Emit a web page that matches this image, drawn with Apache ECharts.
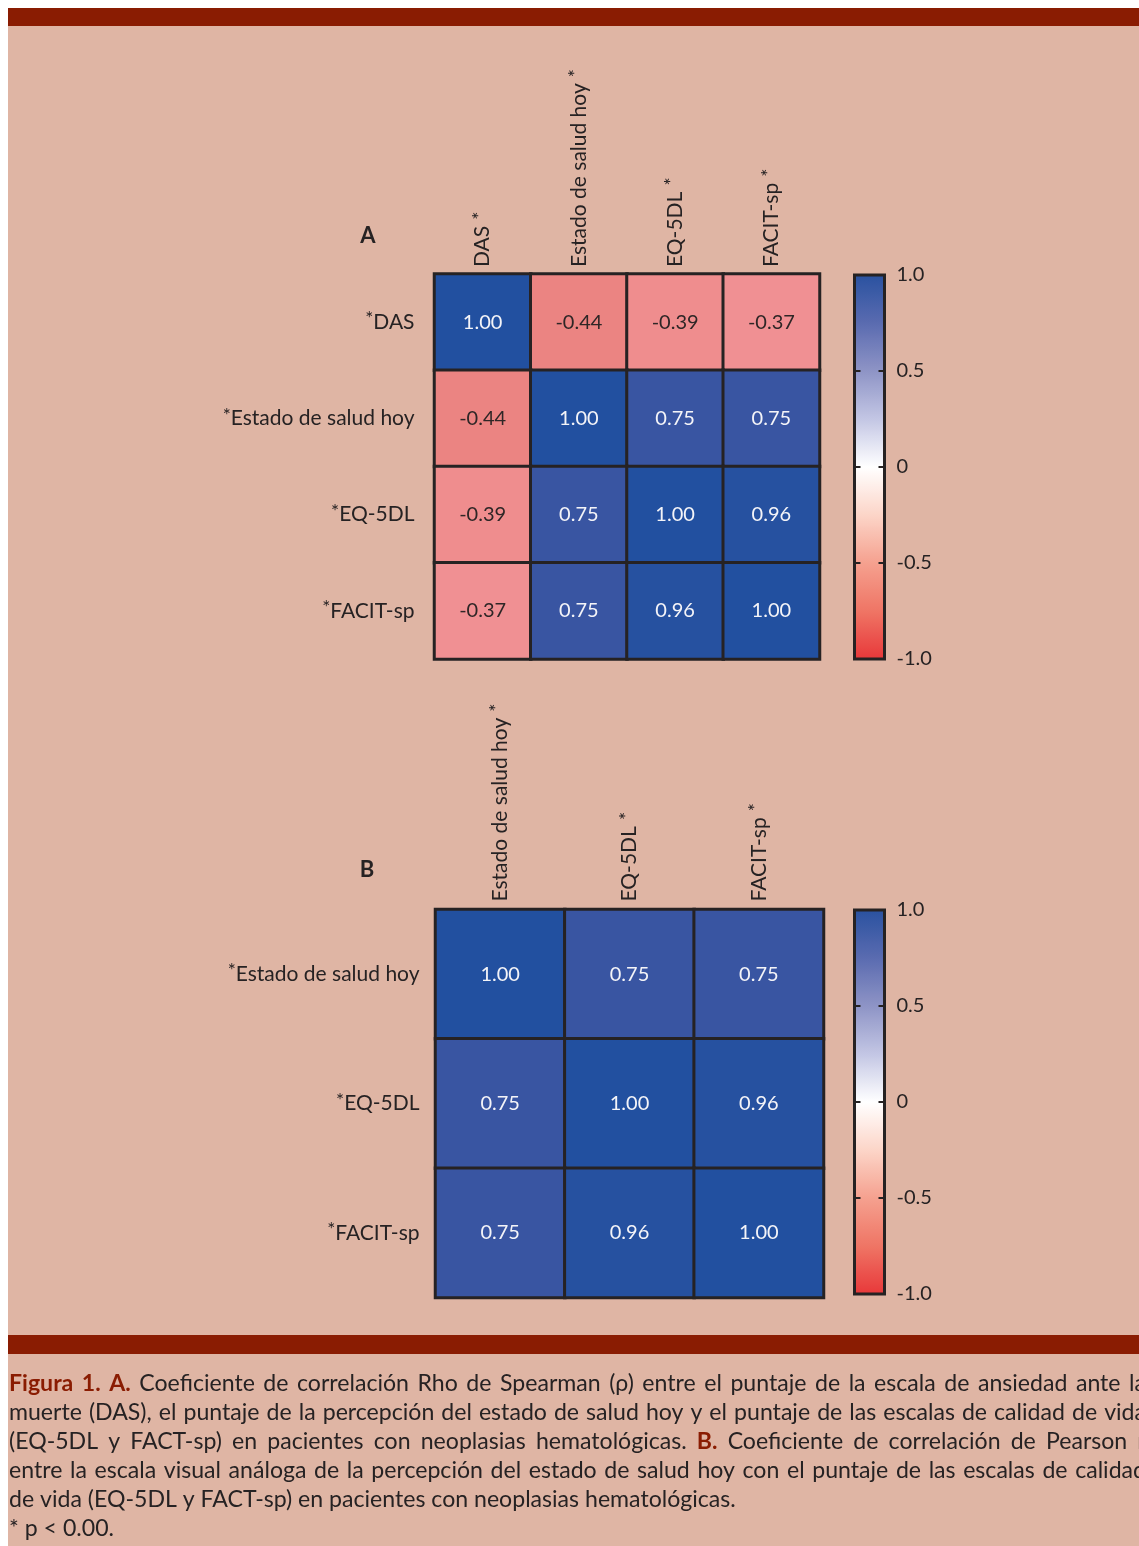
<!DOCTYPE html>
<html>
<head>
<meta charset="utf-8">
<script src="https://cdn.jsdelivr.net/npm/echarts@6/dist/echarts.min.js"></script>
<style>
  html, body { margin: 0; padding: 0; background: #ffffff; }
  #chart { width: 1139px; height: 1546px; }
</style>
</head>
<body>
<div id="chart"></div>
<script>
// Panel A: Spearman rho between DAS, health state today and the quality-of-life scales
const varsA = ['DAS', 'Estado de salud hoy', 'EQ-5DL', 'FACIT-sp'];
const rhoA = [
  [1.00, -0.44, -0.39, -0.37],
  [-0.44, 1.00, 0.75, 0.75],
  [-0.39, 0.75, 1.00, 0.96],
  [-0.37, 0.75, 0.96, 1.00]
];
// Panel B: Pearson r between health state today and the quality-of-life scales
const varsB = ['Estado de salud hoy', 'EQ-5DL', 'FACIT-sp'];
const rB = [
  [1.00, 0.75, 0.75],
  [0.75, 1.00, 0.96],
  [0.75, 0.96, 1.00]
];
// colour scale range and tick step
const scaleMin = -1, scaleMax = 1, scaleStep = 0.5;

// colours used to fill the cells (evenly spaced from -1 to 1)
const cellColors = ['#E8383A', '#EA5A55', '#E77A73', '#F9A5B0', '#FFFFFF', '#C5C8E5', '#8E94C6', '#3955A2', '#2250A0'];
// colours of the legend bars (evenly spaced from -1 to 1)
const barColors = ['#E8383A', '#EF7565', '#F5A18F', '#FCD5C8', '#FFFFFF', '#C3C6E4', '#8E94C6', '#5A6BB0', '#2A52A0'];

const INK = '#262223';
const RED = '#8A1C02';
const BG = '#DFB5A4';
const FONT = 'Lato';

function toCells(m) {
  const out = [];
  m.forEach((row, i) => row.forEach((v, j) => out.push([j, i, v])));
  return out;
}

const richAxis = {
  t: { fontFamily: FONT, fontSize: 21, color: INK, lineHeight: 25 },
  g: { fontFamily: FONT, fontSize: 12, lineHeight: 4 },
  s: { fontFamily: FONT, fontSize: 19, color: INK, lineHeight: 4, verticalAlign: 'top' }
};
const richCell = {
  w: { fontFamily: FONT, fontSize: 20, color: '#F4F4F8' },
  d: { fontFamily: FONT, fontSize: 20, color: '#2E2626' }
};

function heatAxes(gi, names, yMargin, xMargin) {
  return {
    x: {
      gridIndex: gi, type: 'category', data: names, position: 'top',
      axisLine: { show: false }, axisTick: { show: false }, splitLine: { show: false },
      axisLabel: {
        interval: 0, rotate: -90, margin: xMargin,
        formatter: v => '{t|' + v + '}{g|  }{s|*}', rich: richAxis
      }
    },
    y: {
      gridIndex: gi, type: 'category', data: names, inverse: true,
      axisLine: { show: false }, axisTick: { show: false }, splitLine: { show: false },
      axisLabel: {
        interval: 0, margin: yMargin,
        formatter: v => '{s|*}{t|' + v + '}', rich: richAxis
      }
    }
  };
}

function barAxes(gi) {
  const tick = { show: true, inside: true, length: 6, lineStyle: { color: INK, width: 2 } };
  return {
    x: { gridIndex: gi, type: 'value', min: 0, max: 1, show: false },
    yl: {
      gridIndex: gi, type: 'value', min: scaleMin, max: scaleMax, interval: scaleStep,
      position: 'left', z: 10,
      axisLine: { show: false }, axisTick: tick, axisLabel: { show: false }, splitLine: { show: false }
    },
    yr: {
      gridIndex: gi, type: 'value', min: scaleMin, max: scaleMax, interval: scaleStep,
      position: 'right', z: 10,
      axisLine: { show: false }, axisTick: tick, splitLine: { show: false },
      axisLabel: {
        margin: 12, fontFamily: FONT, fontSize: 20, color: INK,
        formatter: v => (v === 0 ? '0' : v.toFixed(1))
      }
    }
  };
}

const hA = heatAxes(0, varsA, 20, 7);
const hB = heatAxes(1, varsB, 16, 8);
const bA = barAxes(2);
const bB = barAxes(3);

// ---- caption below the figure ----
const measureCtx = document.createElement('canvas').getContext('2d');
function fontOf(kind, fs) {
  return (kind === 'n' ? 'normal ' : 'bold ') + fs + 'px ' + FONT;
}
function textWidth(t, font) { measureCtx.font = font; return measureCtx.measureText(t).width; }

const captionLines = [
  { justify: true, segs: [['Figura 1. A.', 'red'], ['Coeficiente de correlación Rho de Spearman (ρ) entre el puntaje de la escala de ansiedad ante la', 'n']] },
  { justify: true, segs: [['muerte (DAS), el puntaje de la percepción del estado de salud hoy y el puntaje de las escalas de calidad de vida', 'n']] },
  { justify: true, segs: [['(EQ-5DL y FACT-sp) en pacientes con neoplasias hematológicas.', 'n'], ['B.', 'red'], ['Coeficiente de correlación de Pearson', 'n'], ['r', 'b']] },
  { justify: true, segs: [['entre la escala visual análoga de la percepción del estado de salud hoy con el puntaje de las escalas de calidad', 'n']] },
  { justify: false, segs: [['de vida (EQ-5DL y FACT-sp) en pacientes con neoplasias hematológicas.', 'n']] },
  { justify: false, segs: [['* p < 0.00.', 'n']] }
];

const capLeft = 9, capRight = 1146, capTop = 1384, capStep = 29;
// size the caption type so the free-running line spans its printed width
let capFs = 21 * 727 / textWidth(captionLines[4].segs[0][0], fontOf('n', 21));
capFs = Math.max(19, Math.min(24, capFs));

const captionEls = [];
captionLines.forEach((line, li) => {
  const words = [];
  line.segs.forEach(([txt, kind]) => txt.split(' ').forEach(w => words.push({ w, kind })));
  const widths = words.map(o => textWidth(o.w, fontOf(o.kind, capFs)));
  const total = widths.reduce((a, b) => a + b, 0);
  const space = textWidth(' ', fontOf('n', capFs));
  let gap = line.justify ? (capRight - capLeft - total) / (words.length - 1) : space;
  if (gap < space * 0.6) gap = space * 0.6;
  let x = capLeft;
  words.forEach((o, k) => {
    captionEls.push({
      type: 'text', x: x, y: capTop + li * capStep, z: 5,
      style: {
        text: o.w, font: fontOf(o.kind, capFs),
        fill: o.kind === 'red' ? RED : INK,
        align: 'left', verticalAlign: 'middle'
      }
    });
    x += widths[k] + gap;
  });
});

const chart = echarts.init(document.getElementById('chart'), null, { renderer: 'canvas' });

chart.setOption({
  animation: false,
  backgroundColor: '#ffffff',
  graphic: [
    { type: 'rect', z: -100, shape: { x: 8, y: 8, width: 1131, height: 1538 }, style: { fill: BG } },
    { type: 'rect', z: -90, shape: { x: 8, y: 8, width: 1131, height: 18 }, style: { fill: RED } },
    { type: 'rect', z: -90, shape: { x: 8, y: 1335, width: 1131, height: 19 }, style: { fill: RED } },
    { type: 'text', x: 368, y: 236, style: { text: 'A', font: 'bold 22px ' + FONT, fill: INK, align: 'center', verticalAlign: 'middle' } },
    { type: 'text', x: 367, y: 870, style: { text: 'B', font: 'bold 22px ' + FONT, fill: INK, align: 'center', verticalAlign: 'middle' } }
  ].concat(captionEls),
  grid: [
    { left: 434.5, top: 274, width: 385, height: 385 },
    { left: 435.5, top: 909.5, width: 388, height: 388 },
    { left: 854.5, top: 275, width: 30, height: 384, show: true, z: 10, borderColor: INK, borderWidth: 3, backgroundColor: 'transparent' },
    { left: 854.5, top: 910, width: 30, height: 384, show: true, z: 10, borderColor: INK, borderWidth: 3, backgroundColor: 'transparent' }
  ],
  xAxis: [hA.x, hB.x, bA.x, bB.x],
  yAxis: [hA.y, hB.y, bA.yl, bA.yr, bB.yl, bB.yr],
  visualMap: [
    {
      type: 'continuous', show: false, seriesIndex: [0, 1],
      min: scaleMin, max: scaleMax, inRange: { color: cellColors }
    },
    {
      type: 'continuous', seriesIndex: [], min: scaleMin, max: scaleMax,
      left: 854.5, top: 275, itemWidth: 30, itemHeight: 384, padding: 0,
      calculable: false, hoverLink: false, z: 1, inRange: { color: barColors }
    },
    {
      type: 'continuous', seriesIndex: [], min: scaleMin, max: scaleMax,
      left: 854.5, top: 910, itemWidth: 30, itemHeight: 384, padding: 0,
      calculable: false, hoverLink: false, z: 1, inRange: { color: barColors }
    }
  ],
  series: [
    {
      type: 'heatmap', xAxisIndex: 0, yAxisIndex: 0, data: toCells(rhoA),
      itemStyle: { borderColor: INK, borderWidth: 3 },
      label: {
        show: true, rich: richCell,
        formatter: p => (p.value[2] < 0 ? '{d|' : '{w|') + p.value[2].toFixed(2) + '}'
      }
    },
    {
      type: 'heatmap', xAxisIndex: 1, yAxisIndex: 1, data: toCells(rB),
      itemStyle: { borderColor: INK, borderWidth: 3 },
      label: {
        show: true, rich: richCell,
        formatter: p => (p.value[2] < 0 ? '{d|' : '{w|') + p.value[2].toFixed(2) + '}'
      }
    }
  ]
});
</script>
</body>
</html>
